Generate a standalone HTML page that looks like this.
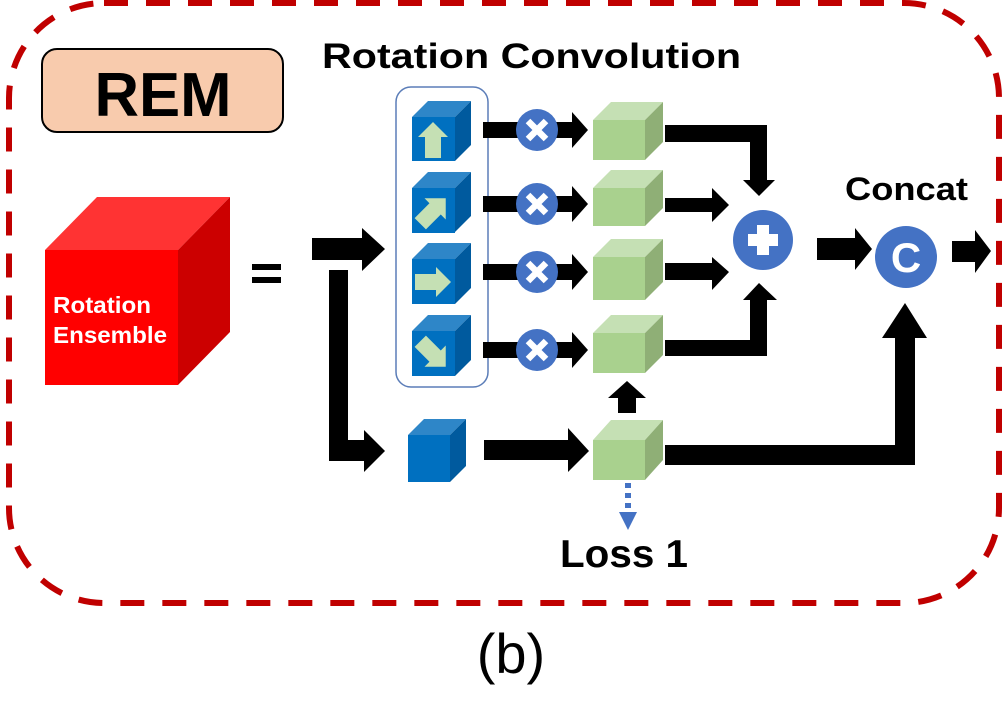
<!DOCTYPE html>
<html><head><meta charset="utf-8"><style>
html,body{margin:0;padding:0;background:#fff;}
svg{display:block;}
text{font-family:"Liberation Sans",Arial,sans-serif;}
</style></head><body>
<svg width="1003" height="721" viewBox="0 0 1003 721" xmlns="http://www.w3.org/2000/svg">
<defs>
<g id="xc"><circle r="21" fill="#4472c4"/><path d="M-9,-9 L9,9 M9,-9 L-9,9" stroke="#fff" stroke-width="6.5" stroke-linecap="butt"/></g>
<g id="ua"><polygon points="0,-18 15,-3 8,-3 8,18 -8,18 -8,-3 -15,-3" fill="#c5e0b4"/></g>
</defs>
<rect x="9" y="3" width="990" height="600" rx="95" ry="95" fill="none" stroke="#c00000" stroke-width="6" stroke-dasharray="24 18"/>
<rect x="42" y="49" width="241" height="83" rx="15" fill="#f8cbad" stroke="#000" stroke-width="2"/>
<text x="163" y="116" font-size="62" font-weight="bold" text-anchor="middle" textLength="137" lengthAdjust="spacingAndGlyphs">REM</text>
<polygon points="45,250 97,197 230,197 178,250" fill="#ff3333"/>
<polygon points="178,250 230,197 230,332 178,385" fill="#cc0000"/>
<rect x="45" y="250" width="133" height="135" fill="#ff0000"/>
<text x="53" y="313" font-size="23" font-weight="bold" fill="#fff" textLength="98" lengthAdjust="spacingAndGlyphs">Rotation</text>
<text x="53" y="343" font-size="23" font-weight="bold" fill="#fff" textLength="114" lengthAdjust="spacingAndGlyphs">Ensemble</text>
<rect x="252" y="264" width="29" height="6" fill="#000"/>
<rect x="252" y="277" width="29" height="6" fill="#000"/>
<polygon points="312,238 362,238 362,228 385,249 362,271 362,260 312,260" fill="#000"/>
<polygon points="329,270 348,270 348,440 364,440 364,430 385,451 364,472 364,461 329,461" fill="#000"/>
<text x="322" y="68" font-size="35" font-weight="bold" textLength="419" lengthAdjust="spacingAndGlyphs">Rotation Convolution</text>
<rect x="396" y="87" width="92" height="300" rx="15" fill="none" stroke="#5b7db8" stroke-width="1.5"/>
<g>
<polygon points="412,117 428,101 471,101 455,117" fill="#2e86c8"/><polygon points="455,117 471,101 471,145 455,161" fill="#005a9e"/><rect x="412" y="117" width="43" height="44" fill="#0070c0"/>
<use href="#ua" transform="translate(433,140)"/>
<polygon points="412,188 428,172 471,172 455,188" fill="#2e86c8"/><polygon points="455,188 471,172 471,216 455,232" fill="#005a9e"/><rect x="412" y="188" width="43" height="45" fill="#0070c0"/>
<use href="#ua" transform="translate(433,211) rotate(45)"/>
<polygon points="412,259 428,243 471,243 455,259" fill="#2e86c8"/><polygon points="455,259 471,243 471,288 455,304" fill="#005a9e"/><rect x="412" y="259" width="43" height="45" fill="#0070c0"/>
<use href="#ua" transform="translate(433,282) rotate(90)"/>
<polygon points="412,331 428,315 471,315 455,331" fill="#2e86c8"/><polygon points="455,331 471,315 471,360 455,376" fill="#005a9e"/><rect x="412" y="331" width="43" height="45" fill="#0070c0"/>
<use href="#ua" transform="translate(433,354) rotate(135)"/>
</g>
<g fill="#000">
<polygon points="483,122 572,122 572,112 588,130 572,148 572,138 483,138"/>
<polygon points="483,196 572,196 572,186 588,204 572,222 572,212 483,212"/>
<polygon points="483,264 572,264 572,254 588,272 572,290 572,280 483,280"/>
<polygon points="483,342 572,342 572,332 588,350 572,368 572,358 483,358"/>
</g>
<use href="#xc" transform="translate(537,130)"/>
<use href="#xc" transform="translate(537,204)"/>
<use href="#xc" transform="translate(537,272)"/>
<use href="#xc" transform="translate(537,350)"/>
<g>
<polygon points="593,120 611,102 663,102 645,120" fill="#c5e0b4"/><polygon points="645,120 663,102 663,142 645,160" fill="#8faf76"/><rect x="593" y="120" width="52" height="40" fill="#a9d18e"/>
<polygon points="593,188 611,170 663,170 645,188" fill="#c5e0b4"/><polygon points="645,188 663,170 663,208 645,226" fill="#8faf76"/><rect x="593" y="188" width="52" height="38" fill="#a9d18e"/>
<polygon points="593,257 611,239 663,239 645,257" fill="#c5e0b4"/><polygon points="645,257 663,239 663,282 645,300" fill="#8faf76"/><rect x="593" y="257" width="52" height="43" fill="#a9d18e"/>
<polygon points="593,333 611,315 663,315 645,333" fill="#c5e0b4"/><polygon points="645,333 663,315 663,355 645,373" fill="#8faf76"/><rect x="593" y="333" width="52" height="40" fill="#a9d18e"/>
<polygon points="593,440 611,420 663,420 645,440" fill="#c5e0b4"/><polygon points="645,440 663,420 663,460 645,480" fill="#8faf76"/><rect x="593" y="440" width="52" height="40" fill="#a9d18e"/>
</g>
<polygon points="408,435 424,419 466,419 450,435" fill="#2e86c8"/><polygon points="450,435 466,419 466,466 450,482" fill="#005a9e"/><rect x="408" y="435" width="42" height="47" fill="#0070c0"/>
<polygon points="484,440 568,440 568,428 589,451 568,472 568,460 484,460" fill="#000"/>
<polygon points="618,413 636,413 636,398 646,398 627,381 608,398 618,398" fill="#000"/>
<line x1="628" y1="483" x2="628" y2="512" stroke="#4472c4" stroke-width="6" stroke-dasharray="5 5"/>
<polygon points="619,512 637,512 628,530" fill="#4472c4"/>
<text x="560" y="567" font-size="39" font-weight="bold" textLength="128" lengthAdjust="spacingAndGlyphs">Loss 1</text>
<g fill="#000">
<polygon points="665,125 767,125 767,180 775,180 759,196 743,180 750,180 750,142 665,142"/>
<polygon points="665,198 712,198 712,188 729,205 712,222 712,212 665,212"/>
<polygon points="665,263 712,263 712,257 729,272 712,290 712,280 665,280"/>
<polygon points="665,340 750,340 750,300 743,300 759,283 777,300 767,300 767,356 665,356"/>
<polygon points="817,238 855,238 855,228 872,249 855,270 855,260 817,260"/>
<polygon points="952,241 975,241 975,230 991,251 975,273 975,262 952,262"/>
<polygon points="665,445 895,445 895,338 882,338 905,303 927,338 915,338 915,465 665,465"/>
</g>
<circle cx="763" cy="240" r="30" fill="#4472c4"/>
<rect x="757" y="225" width="12" height="30" fill="#fff"/><rect x="748" y="234" width="30" height="12" fill="#fff"/>
<circle cx="906" cy="257" r="31" fill="#4472c4"/>
<text x="906" y="272" font-size="42" font-weight="bold" fill="#fff" text-anchor="middle">C</text>
<text x="845" y="200" font-size="32" font-weight="bold" textLength="123" lengthAdjust="spacingAndGlyphs">Concat</text>
<text x="511" y="673" font-size="56" text-anchor="middle">(b)</text>
</svg>
</body></html>
